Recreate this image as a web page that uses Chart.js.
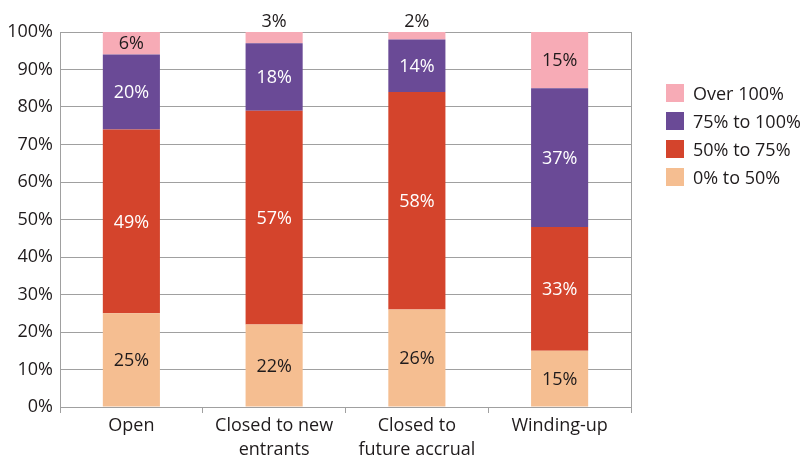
<!DOCTYPE html>
<html>
<head>
<meta charset="utf-8">
<script src="https://cdn.jsdelivr.net/npm/chart.js@4"></script>
<style>
  body { margin: 0; background: #fff; }
  #wrap { position: relative; width: 806px; height: 459px; }
  #legend { position: absolute; left: 666px; top: 79px; font-family: 'Open Sans', sans-serif; font-size: 18px; color: #1f1b1c; }
  #legend div { height: 28px; display: flex; align-items: center; white-space: nowrap; }
  #legend span.box { display: inline-block; width: 18px; height: 18px; margin-right: 9px; }
</style>
</head>
<body>
<div id="wrap">
  <canvas id="chart" width="806" height="459"></canvas>
  <div id="legend"></div>
</div>
<script>
const categories = ['Open', ['Closed to new', 'entrants'], ['Closed to', 'future accrual'], 'Winding-up'];
const band0to50 = [25, 22, 26, 15];
const band50to75 = [49, 57, 58, 33];
const band75to100 = [20, 18, 14, 37];
const bandOver100 = [6, 3, 2, 15];
const seriesNames = ['0% to 50%', '50% to 75%', '75% to 100%', 'Over 100%'];
const seriesColors = ['#f5be91', '#d4442c', '#6a4a96', '#f7abb6'];
const labelColors = ['#1f1b1c', '#ffffff', '#ffffff', '#1f1b1c'];

const gridColor = '#a0a0a0';
const textColor = '#1f1b1c';
const fontFamily = "'Open Sans', sans-serif";

// value labels: centred in each segment, or just above the bar when the segment is tiny
const barLabels = {
  id: 'barLabels',
  afterDatasetsDraw(chart) {
    const ctx = chart.ctx;
    ctx.save();
    ctx.font = '18px ' + fontFamily;
    ctx.textAlign = 'center';
    ctx.textBaseline = 'middle';
    chart.data.datasets.forEach((ds, i) => {
      const meta = chart.getDatasetMeta(i);
      meta.data.forEach((bar, j) => {
        const v = ds.data[j];
        const top = bar.y, bottom = bar.base;
        if (v < 5) {
          ctx.fillStyle = textColor;
          ctx.fillText(v + '%', bar.x, top - 10);
        } else {
          ctx.fillStyle = labelColors[i];
          ctx.fillText(v + '%', bar.x, (top + bottom) / 2 + 1);
        }
      });
    });
    ctx.restore();
  }
};

const data = {
  labels: categories,
  datasets: [band0to50, band50to75, band75to100, bandOver100].map((d, i) => ({
    label: seriesNames[i],
    data: d,
    backgroundColor: seriesColors[i],
    borderWidth: 0,
    barPercentage: 0.4,
    categoryPercentage: 1.0,
  })),
};

new Chart(document.getElementById('chart'), {
  type: 'bar',
  data: data,
  plugins: [barLabels],
  options: {
    responsive: false,
    animation: false,
    layout: { padding: { top: 32, right: 175, left: 0, bottom: 0 } },
    plugins: {
      legend: { display: false },
      tooltip: { enabled: false },
    },
    scales: {
      x: {
        stacked: true,
        afterFit: (s) => { s.height = 52; },
        grid: { offset: true, drawOnChartArea: false, color: gridColor, tickLength: 6 },
        border: { color: gridColor },
        ticks: { color: textColor, font: { family: fontFamily, size: 18, lineHeight: 1.33 }, padding: 1, maxRotation: 0 },
      },
      y: {
        stacked: true,
        min: 0,
        max: 100,
        afterFit: (s) => { s.width = 60; },
        grid: { color: gridColor, drawTicks: false },
        border: { color: gridColor },
        ticks: {
          stepSize: 10,
          color: textColor,
          padding: 7,
          font: { family: fontFamily, size: 18 },
          callback: (v) => v + '%',
        },
      },
      y2: {
        position: 'right',
        min: 0,
        max: 100,
        afterFit: (s) => { s.width = 0; },
        grid: { drawOnChartArea: false, drawTicks: false },
        border: { color: gridColor },
        ticks: { display: false },
      },
    },
  },
});

const legend = document.getElementById('legend');
for (let i = seriesNames.length - 1; i >= 0; i--) {
  const row = document.createElement('div');
  row.innerHTML = '<span class="box" style="background:' + seriesColors[i] + '"></span>' + seriesNames[i];
  legend.appendChild(row);
}
</script>
</body>
</html>
